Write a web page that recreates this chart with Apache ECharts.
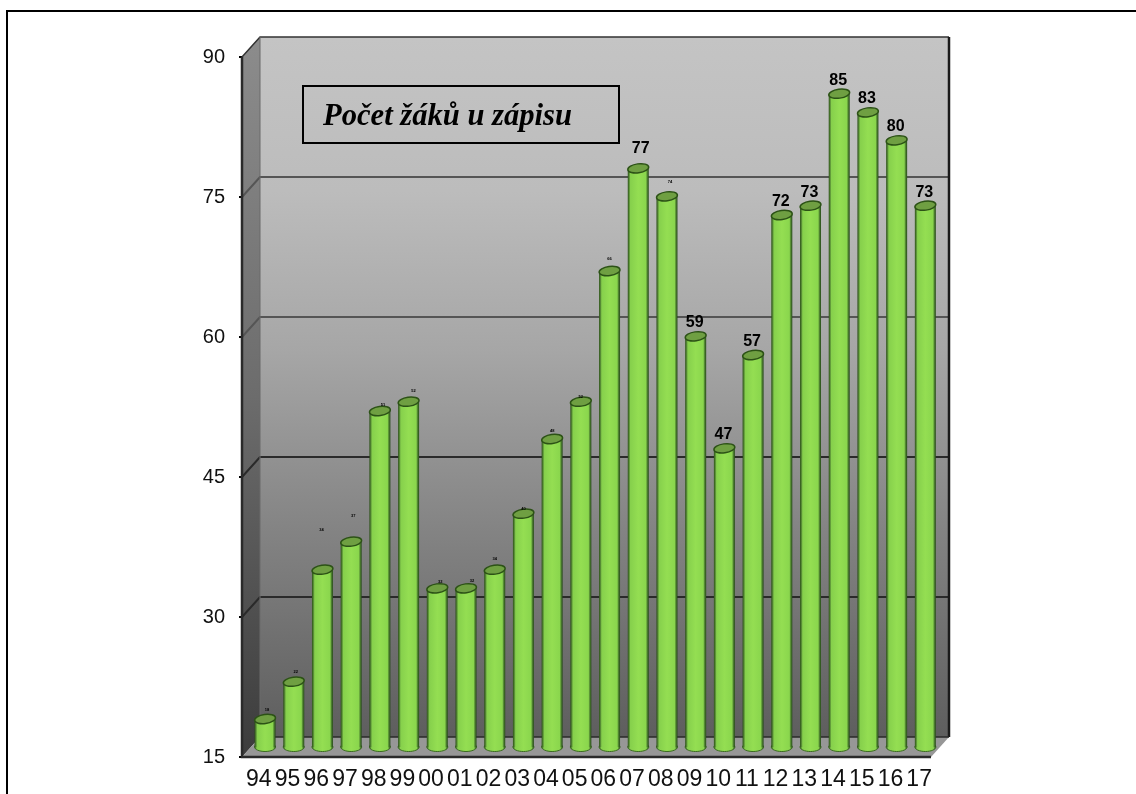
<!DOCTYPE html>
<html><head><meta charset="utf-8">
<style>html,body{margin:0;padding:0;background:#fff}#c{width:1136px;height:794px}</style>
<script src="https://cdn.jsdelivr.net/npm/echarts@6/dist/echarts.min.js"></script></head>
<body><div id="c"></div>
<script>
const years = ['94','95','96','97','98','99','00','01','02','03','04','05','06','07','08','09','10','11','12','13','14','15','16','17'];
const pupils = [18,22,34,37,51,52,32,32,34,40,48,52,66,77,74,59,47,57,72,73,85,83,80,73];
const legibleLabels = ['07','09','10','11','12','13','14','15','16','17'];
const yTicks = [15,30,45,60,75,90];
const titleText = 'Počet žáků u zápisu';

// label placement relative to the bar top: [dx, lift]
const labelShift = {'94':[2,9],'95':[2,10],'96':[-1,40],'97':[2,26],'98':[3,6],'99':[5,11],'00':[3,6],'01':[6,7],
  '02':[0,11],'03':[0,5],'04':[0,8],'05':[0,5],'06':[0,12],'07':[2.5,19.5],'08':[3,14]};

const DX = 18, DY = -20, MID_X = 8.7, MID_Y = -10;
const GL = 242, GT = 57, GR = 931, GB = 757;
const chart = echarts.init(document.getElementById('c'), null, {renderer:'canvas'});

function grad(x0,y0,x1,y1,stops){return new echarts.graphic.LinearGradient(x0,y0,x1,y1,stops.map(s=>({offset:s[0],color:s[1]})));}

function renderRoom(params, api){
  const tl = api.coord(['94',90]), bl = api.coord(['94',15]);
  const w = api.size(['94',0])[0];
  const x0 = tl[0]-w/2, x1 = x0 + w*years.length;
  const top = tl[1], bot = bl[1];
  const children = [];
  children.push({type:'polygon',shape:{points:[[x0+DX,top+DY],[x1+DX,top+DY],[x1+DX,bot+DY],[x0+DX,bot+DY]]},
    style:{fill:grad(0,0,0,1,[[0,'#c4c4c4'],[0.22,'#bcbcbc'],[0.45,'#a6a6a6'],[0.7,'#848484'],[1,'#5e5e5e']])}});
  children.push({type:'polygon',shape:{points:[[x0,top],[x0+DX,top+DY],[x0+DX,bot+DY],[x0,bot]]},
    style:{fill:grad(0,0,0,1,[[0,'#8c8c8c'],[0.5,'#6c6c6c'],[1,'#3c3c3c']])}});
  children.push({type:'polygon',shape:{points:[[x0,bot],[x0+DX,bot+DY],[x1+DX,bot+DY],[x1,bot]]},
    style:{fill:'#979797'}});
  yTicks.forEach(v=>{
    const y = api.coord(['94',v])[1];
    if(v>15 && v<90) children.push({type:'polyline',shape:{points:[[x0,y],[x0+DX,y+DY],[x1+DX,y+DY]]},
      style:{fill:null,stroke:v>=60?'#555':'#2a2a2a',lineWidth:2}});
  });
  children.push({type:'polyline',shape:{points:[[x0,top],[x0+DX,top+DY],[x1+DX,top+DY]]},style:{fill:null,stroke:'#333',lineWidth:1.5}});
  children.push({type:'polyline',shape:{points:[[x1+DX,top+DY],[x1+DX,bot+DY]]},style:{fill:null,stroke:'#1a1a1a',lineWidth:2.5}});
  children.push({type:'polyline',shape:{points:[[x0,top],[x0,bot],[x1,bot]]},style:{fill:null,stroke:'#2a2a2a',lineWidth:2.5}});
  children.push({type:'line',shape:{x1:x0+DX,y1:top+DY,x2:x0+DX,y2:bot+DY},style:{stroke:'#6a6a6a',lineWidth:1}});
  children.push({type:'line',shape:{x1:x0+DX,y1:bot+DY,x2:x1+DX,y2:bot+DY},style:{stroke:'#2a2a2a',lineWidth:1.5}});
  return {type:'group',children};
}

function renderBar(params, api){
  const cat = api.value(0), val = api.value(1);
  const t = api.coord([cat,val]), b = api.coord([cat,15]);
  const cx = t[0]+MID_X, yt = t[1]+MID_Y, yb = b[1]+MID_Y;
  const hw = 10.5, ry = 4.5;
  const body = () => grad(0,0,1,0,[[0,'#2b4f18'],[0.06,'#4f8030'],[0.13,'#86d04c'],[0.5,'#94de52'],[0.86,'#8ad64d'],[0.93,'#4c7e2e'],[1,'#26481a']]);
  return {type:'group',children:[
    {type:'ellipse',shape:{cx,cy:yb,rx:hw,ry:ry},style:{fill:body(),stroke:'#3b6a22',lineWidth:1}},
    {type:'rect',shape:{x:cx-hw,y:yt,width:hw*2,height:yb-yt},style:{fill:body()}},
    {type:'ellipse',shape:{cx,cy:yt,rx:hw,ry:ry},rotation:0.14,originX:cx,originY:yt,
      style:{fill:'#6f9f42',stroke:'#2c5216',lineWidth:1.5}}
  ]};
}

function renderLabel(params, api){
  const cat = api.value(0), val = api.value(1);
  const t = api.coord([cat,val]);
  const name = years[params.dataIndex];
  const big = legibleLabels.includes(name);
  const s = labelShift[name] || [-1,13.5];
  return {type:'text',x:t[0]+MID_X+s[0],y:t[1]+MID_Y-s[1],
    style:{text:String(val),fill:'#000',font:big?'bold 16px "Liberation Sans"':'bold 4px "Liberation Sans"',align:'center',verticalAlign:'middle'}};
}

const barData = years.map((y,i)=>[y,pupils[i]]);
chart.setOption({
  animation:false,
  backgroundColor:'#fff',
  grid:{left:GL,top:GT,width:GR-GL,height:GB-GT,containLabel:false},
  xAxis:{type:'category',data:years,position:'bottom',axisLine:{show:false},axisTick:{show:false},
    axisLabel:{interval:0,margin:11,padding:[0,0,0,5],color:'#111',fontFamily:'"Liberation Sans"',fontSize:23}},
  yAxis:{type:'value',min:15,max:90,interval:15,axisLine:{show:false},splitLine:{show:false},
    axisTick:{show:true,length:3,lineStyle:{color:'#000',width:2}},
    axisLabel:{margin:17,padding:[6,0,0,0],color:'#111',fontFamily:'"Liberation Sans"',fontSize:20}},
  title:{text:titleText,left:303,top:86,padding:[16,47,10,20],borderColor:'#000',borderWidth:2,
    textStyle:{fontFamily:'"Liberation Serif"',fontStyle:'italic',fontWeight:'bold',fontSize:30.6,color:'#000'}},
  graphic:[{type:'polyline',x:0,y:0,shape:{points:[[7,794],[7,11],[1136,11]]},style:{fill:null,stroke:'#000',lineWidth:2},silent:true,z:100}],
  series:[
    {type:'custom',renderItem:renderRoom,data:[['94',15]],z:1,silent:true,clip:false},
    {type:'custom',renderItem:renderBar,data:barData,encode:{x:0,y:1},z:2,silent:true,clip:false},
    {type:'custom',renderItem:renderLabel,data:barData,encode:{x:0,y:1},z:3,silent:true,clip:false}
  ]
});
</script></body></html>
